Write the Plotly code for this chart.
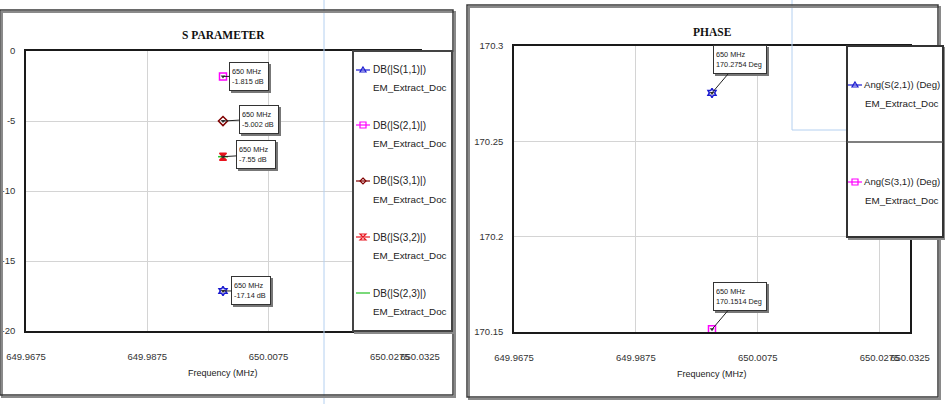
import plotly.graph_objects as go

W, H = 945, 404

# ---------------- data ----------------
freq_mhz = 650.0
x_ticks = [649.9675, 649.9875, 650.0075, 650.0275, 650.0325]
x_tick_text = ["649.9675", "649.9875", "650.0075", "650.0275", "650.0325"]

sp_names = ["DB(|S(1,1)|)", "DB(|S(2,1)|)", "DB(|S(3,1)|)", "DB(|S(3,2)|)", "DB(|S(2,3)|)"]
sp_values = [-17.14, -1.815, -5.002, -7.55, -7.55]
sp_colors = ["#1a1ad0", "#ff00ff", "#800000", "#e8141e", "#22c022"]
sp_symbols = ["hexagram-open", "square-open", "diamond-open", "hourglass", "line-ew"]
sp_marked = [True, True, True, True, False]
sp_yticks = [0, -5, -10, -15, -20]

ph_names = ["Ang(S(2,1)) (Deg)", "Ang(S(3,1)) (Deg)"]
ph_values = [170.2754, 170.1514]
ph_colors = ["#1a1ad0", "#ff00ff"]
ph_symbols = ["hexagram-open", "square-open"]
ph_yticks = [170.15, 170.2, 170.25, 170.3]
ph_ytick_text = ["170.15", "170.2", "170.25", "170.3"]

NARROW = "Liberation Sans Narrow, Arial Narrow, Liberation Sans, sans-serif"


def px(x):
    return x / W


def py(y):
    return 1 - y / H


fig = go.Figure()

# ---------------- traces ----------------
for name, v, c, s in zip(sp_names, sp_values, sp_colors, sp_symbols):
    fig.add_trace(go.Scatter(x=[freq_mhz], y=[v], mode="markers", name=name,
                             marker=dict(symbol=s, size=7, color=c, line=dict(width=1.5, color=c)),
                             xaxis="x", yaxis="y", cliponaxis=False, showlegend=False))
fig.add_trace(go.Scatter(x=[freq_mhz] * 4, y=[v for v, m in zip(sp_values, sp_marked) if m], mode="markers",
                         marker=dict(symbol="triangle-down", size=4, color="#333"),
                         xaxis="x", yaxis="y", cliponaxis=False, showlegend=False))
for name, v, c, s in zip(ph_names, ph_values, ph_colors, ph_symbols):
    fig.add_trace(go.Scatter(x=[freq_mhz], y=[v], mode="markers", name=name,
                             marker=dict(symbol=s, size=7, color=c, line=dict(width=1.5, color=c)),
                             xaxis="x2", yaxis="y2", cliponaxis=False, showlegend=False))
fig.add_trace(go.Scatter(x=[freq_mhz] * 2, y=ph_values, mode="markers",
                         marker=dict(symbol="triangle-down", size=4, color="#333"),
                         xaxis="x2", yaxis="y2", cliponaxis=False, showlegend=False))

axis_common = dict(showline=True, linecolor="#1a1a1a", linewidth=1.5, mirror=True,
                   showgrid=True, gridcolor="#d4d4d4", gridwidth=1, zeroline=False,
                   automargin=False, ticks="",
                   tickfont=dict(family=NARROW, size=9.5, color="#333"))

fig.update_layout(
    template="none",
    width=W, height=H, margin=dict(l=0, r=0, t=0, b=0, pad=0),
    paper_bgcolor="white", plot_bgcolor="white", showlegend=False,
    xaxis=dict(domain=[px(26), px(420)], range=[x_ticks[0], x_ticks[-1]], tickmode="array",
               tickvals=x_ticks, ticktext=x_tick_text, tickangle=0, ticklabelstandoff=16,
               anchor="y", **axis_common),
    yaxis=dict(domain=[py(331), py(51)], range=[-20, 0], tickmode="array", tickvals=sp_yticks,
               ticktext=[str(t) for t in sp_yticks], ticklabelstandoff=7, anchor="x", **axis_common),
    xaxis2=dict(domain=[px(514), px(910)], range=[x_ticks[0], x_ticks[-1]], tickmode="array",
                tickvals=x_ticks, ticktext=x_tick_text, tickangle=0, ticklabelstandoff=16,
                anchor="y2", **axis_common),
    yaxis2=dict(domain=[py(332), py(46)], range=[ph_yticks[0], ph_yticks[-1]], tickmode="array",
                tickvals=ph_yticks, ticktext=ph_ytick_text, ticklabelstandoff=7, anchor="x2", **axis_common),
)

shapes = []
annotations = []


def rect(x0, y0, x1, y1, color="#333", width=1.5, fill=None):
    shapes.append(dict(type="rect", xref="paper", yref="paper", x0=px(x0), x1=px(x1),
                       y0=py(y1), y1=py(y0), line=dict(color=color, width=width),
                       fillcolor=fill if fill else "rgba(0,0,0,0)", layer="above"))


def line(x0, y0, x1, y1, color="#333", width=1.0):
    shapes.append(dict(type="line", xref="paper", yref="paper", x0=px(x0), x1=px(x1),
                       y0=py(y0), y1=py(y1), line=dict(color=color, width=width), layer="above"))


def path(points, color, width=1.0, closed=True):
    d = "M " + " L ".join(f"{px(a)},{py(b)}" for a, b in points) + (" Z" if closed else "")
    shapes.append(dict(type="path", xref="paper", yref="paper", path=d,
                       line=dict(color=color, width=width), fillcolor="rgba(0,0,0,0)", layer="above"))


def glyph(symbol, cx, cy, color):
    line(cx - 7, cy, cx + 7, cy, color, 1.2)
    s = 3
    if symbol.startswith("hexagram") or symbol.startswith("triangle"):
        path([(cx, cy - s), (cx + s, cy + s - 1), (cx - s, cy + s - 1)], color, 1.2)
    elif symbol.startswith("square"):
        path([(cx - s, cy - s), (cx + s, cy - s), (cx + s, cy + s), (cx - s, cy + s)], color, 1.2)
    elif symbol.startswith("diamond"):
        path([(cx, cy - s), (cx + s, cy), (cx, cy + s), (cx - s, cy)], color, 1.2)
    elif symbol.startswith("hourglass"):
        path([(cx - s, cy - s), (cx + s, cy - s), (cx - s, cy + s), (cx + s, cy + s)], color, 1.2)


def text(x, y, t, size=11, family=NARROW, color="#222", xanchor="center", bold=False):
    if bold:
        t = f"<b>{t}</b>"
    annotations.append(dict(xref="paper", yref="paper", x=px(x), y=py(y), text=t, showarrow=False,
                            xanchor=xanchor, yanchor="middle", font=dict(family=family, size=size, color=color)))


# ---- screen artifacts (light blue lines) ----
line(324, 0, 324, H, "#b4d0f0", 1)
line(792, 0, 792, 130, "#b4d0f0", 1)
line(792, 130, 848, 130, "#b4d0f0", 1)

# ---- outer frames with shadow ----
rect(2, 12, 455, 397, "#8a8a8a", 2)
rect(0, 10, 453, 395, "#3a3a3a", 1.5)
rect(469, 7, 940, 399, "#8a8a8a", 2)
rect(467, 5, 938, 397, "#3a3a3a", 1.5)

# ---- legend boxes ----
rect(355, 53, 454, 333, "#8a8a8a", 2, "#8a8a8a")
rect(353, 51, 452, 331, "#444", 2, "white")
rect(849, 48, 945, 239, "#8a8a8a", 2, "#8a8a8a")
rect(847, 46, 943, 237, "#333", 2, "white")
line(847, 142, 943, 142, "#555", 1.5)

# left legend entries
leg_y = [70, 125, 181, 237, 293]
for name, c, s, yy in zip(sp_names, sp_colors, sp_symbols, leg_y):
    glyph(s, 363, yy, c)
    text(371, yy, name, size=10, xanchor="left")
    text(371, yy + 18, "EM_Extract_Doc", size=9.8, xanchor="left")

# right legend entries
leg_y2 = [85, 182]
for name, c, s, yy in zip(ph_names, ph_colors, ph_symbols, leg_y2):
    glyph(s, 855, yy, c)
    text(862, yy, name, size=9.6, xanchor="left")
    text(863, yy + 18, "EM_Extract_Doc", size=9.8, xanchor="left")

# ---- titles ----
text(223, 35, "S PARAMETER", size=11.5, family="Liberation Serif, serif", color="#111", bold=True)
text(712, 32, "PHASE", size=11.5, family="Liberation Serif, serif", color="#111", bold=True)
text(223, 373, "Frequency (MHz)", size=9)
text(712, 374, "Frequency (MHz)", size=9)

# ---- marker readout boxes ----
def readout(xref, yref, v, off, label, w):
    for shadow in (True, False):
        annotations.append(dict(
            xref=xref, yref=yref, x=freq_mhz, y=v, ax=off[0], ay=off[1], text=label,
            showarrow=True, arrowhead=0, arrowwidth=1,
            arrowcolor="rgba(0,0,0,0)" if shadow else "#222",
            bgcolor="#777" if shadow else "white",
            bordercolor="#777" if shadow else "#333", borderwidth=1, borderpad=2,
            width=w, height=23,
            xshift=2 if shadow else 0, yshift=-2 if shadow else 0, align="left",
            font=dict(family=NARROW, size=7.3, color="rgba(0,0,0,0)" if shadow else "#222")))


sp_offsets = [(28, 0), (26, 0), (36, -2), (33, -2), None]
for v, off in zip(sp_values, sp_offsets):
    if off is None:
        continue
    readout("x", "y", v, off, f"{freq_mhz:g} MHz<br>{v} dB", 34)

ph_offsets = [(28, -33), (28, -33)]
for v, off in zip(ph_values, ph_offsets):
    readout("x2", "y2", v, off, f"{freq_mhz:g} MHz<br>{v} Deg", 48)

fig.update_layout(shapes=shapes, annotations=annotations)
fig.write_html("out.html")
